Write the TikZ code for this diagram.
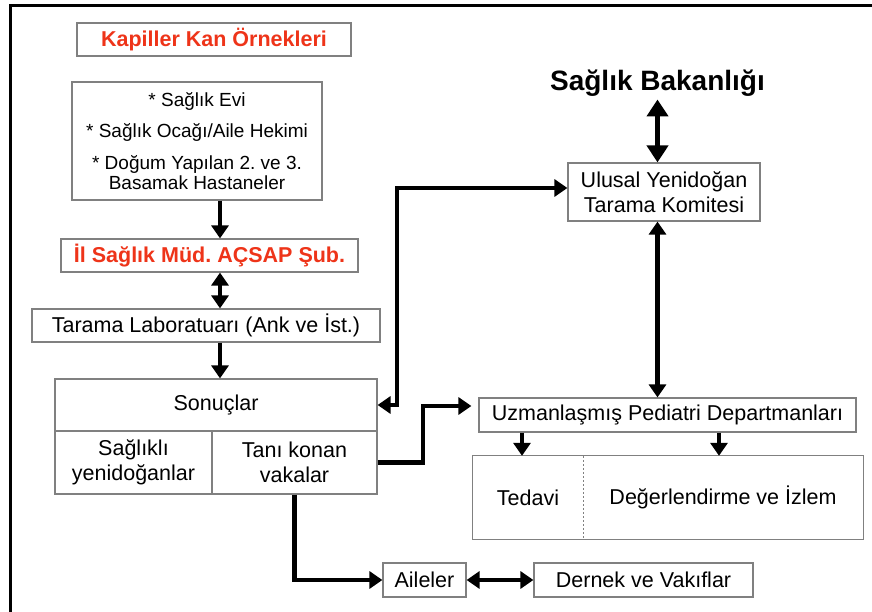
\documentclass[tikz,border=0pt]{standalone}
\usepackage{fontspec}
\setmainfont{Liberation Sans}
\usetikzlibrary{arrows.meta}
\definecolor{kirmizi}{RGB}{238,52,25}
\definecolor{cerceve}{RGB}{128,128,128}
\frenchspacing
\begin{document}
\begin{tikzpicture}[x=1pt,y=-1pt,
	kutu/.style={draw=cerceve,line width=1.2pt,inner sep=0pt,align=center,font=\fontsize{21.5}{25}\selectfont},
	bos/.style={inner sep=0pt,align=center,font=\fontsize{21.5}{25}\selectfont},
	kirmiziyazi/.style={text=kirmizi,font=\bfseries\fontsize{21.5}{25}\selectfont},
	ok/.style={line width=4.5pt,-{Triangle[width=17pt,length=13pt]}},
	cok/.style={line width=4.5pt,{Triangle[width=17pt,length=13pt]}-{Triangle[width=17pt,length=13pt]}},
	bok/.style={line width=5pt,{Triangle[width=21pt,length=17pt]}-{Triangle[width=21pt,length=17pt]}}]
						\useasboundingbox (0,0) rectangle (872,612);
						\draw [line width=3pt] (10.5,612) -- (10.5,5.7) -- (872,5.7);
						\node [kutu,kirmiziyazi,minimum width=274pt,minimum height=33pt] (kan) at (214,39.5) {Kapiller Kan Örnekleri};
						\node [kutu,minimum width=250pt,minimum height=118pt,font=\fontsize{19}{23}\selectfont] (src) at (197,141) {* Sağlık Evi\\[8pt]* Sağlık Ocağı/Aile Hekimi\\[9pt]* Doğum Yapılan 2. ve 3.\\[-3pt]Basamak Hastaneler};
						\node [kutu,kirmiziyazi,minimum width=297pt,minimum height=33pt] (il) at (209.5,255.5) {İl Sağlık Müd. AÇSAP Şub.};
						\node [kutu,minimum width=348pt,minimum height=33pt] (lab) at (206,325.5) {Tarama Laboratuarı (Ank ve İst.)};
						\coordinate (kolon) at (220,0);
						\node [kutu,minimum width=322pt,minimum height=52pt] (son) at (216,405) {Sonuçlar};
						\node [kutu,minimum width=157pt,minimum height=63pt] (sag) at (133.5,462.5) {Sağlıklı\\yenidoğanlar};
						\node [kutu,minimum width=165pt,minimum height=63pt] (tani) at (294.5,462.5) {Tanı konan\\vakalar};
						\node [bos,font=\bfseries\fontsize{28}{30}\selectfont,inner sep=3pt] (bak) at (657.5,83) {Sağlık Bakanlığı};
						\node [kutu,minimum width=192pt,minimum height=58pt] (ulu) at (664,192) {Ulusal Yenidoğan\\Tarama Komitesi};
						\node [kutu,minimum width=377pt,minimum height=34pt] (uzm) at (667.5,415) {Uzmanlaşmış Pediatri Departmanları};
						\node [bos,minimum width=110pt,minimum height=83pt] (ted) at (528,497.5) {Tedavi};
						\node [bos,minimum width=280pt,minimum height=83pt] (deg) at (723,497.5) {Değerlendirme ve İzlem};
						\draw [cerceve,line width=1.2pt] (ted.north west) rectangle (deg.south east);
						\draw [cerceve,line width=0.8pt,dash pattern=on 2pt off 2pt] (ted.north east) -- (ted.south east);
						\node [kutu,minimum width=83pt,minimum height=34pt] (ail) at (424.5,580) {Aileler};
						\node [kutu,minimum width=219pt,minimum height=34pt] (der) at (643.5,580) {Dernek ve Vakıflar};
						\coordinate (ubend) at (397,0);
						\coordinate (tbend) at (423,406);
						\draw [ok] (src.south -| kolon) -- (il.north -| kolon);
						\draw [cok] (il.south -| kolon) -- (lab.north -| kolon);
						\draw [ok] (lab.south -| kolon) -- (son.north -| kolon);
						\draw [bok] (bak.south) -- (bak.south |- ulu.north);
						\draw [cok] (bak.south |- ulu.south) -- (bak.south |- uzm.north);
						\draw [cok] (son.east) -- (son.east -| ubend) -- ([yshift=4pt]ulu.west -| ubend) -- ([yshift=4pt]ulu.west);
						\draw [ok] (tani.east) -| (tbend) -- ([xshift=-7pt]uzm.west |- tbend);
						\draw [ok] (tani.south) |- (ail.west);
						\draw [cok] (ail.east) -- (der.west);
						\draw [ok] ([xshift=-6pt]ted.north |- uzm.south) -- ([xshift=-6pt]ted.north);
						\draw [ok] ([xshift=-4pt]deg.north |- uzm.south) -- ([xshift=-4pt]deg.north);
					\end{tikzpicture}
\end{document}
